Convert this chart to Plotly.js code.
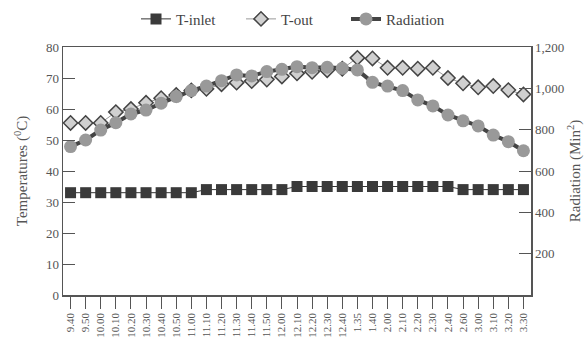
<!DOCTYPE html>
<html>
<head>
<meta charset="utf-8">
<script src="https://cdn.plot.ly/plotly-3.0.1.min.js"></script>
<style>html,body{margin:0;padding:0;background:#fff;}#chart{width:587px;height:348px;}</style>
</head>
<body>
<div id="chart"></div>
<script>
const times = ["9.40","9.50","10.00","10.10","10.20","10.30","10.40","10.50","11.00","11.10","11.20","11.30","11.40","11.50","12.00","12.10","12.20","12.30","12.40","1.35","1.40","2.00","2.10","2.20","2.30","2.40","2.60","3.00","3.10","3.20","3.30"];
const tInlet = [33,33,33,33,33,33,33,33,33,34,34,34,34,34,34,35,35,35,35,35,35,35,35,35,35,35,34,34,34,34,34];
const tOut = [55.5,55.5,55.5,59,60,62,63.5,64.5,66,66.5,68,68.5,69,69.5,70.5,71.5,72,72.5,73,76.5,76.3,73.3,73.3,73,73.3,70,68.3,67,67.4,66.1,64.7];
const radiation = [718,750,798,834,876,895,928,960,989,1011,1037,1065,1060,1081,1092,1105,1100,1102,1097,1089,1029,1011,989,944,915,871,843,818,774,742,698];
const tempTicks = [0,10,20,30,40,50,60,70,80];
const radTicks = [200,400,600,800,1000,1200];
const boundaryTicks = times.slice(1).map((_, i) => i + 0.5);

const axisColor = '#555';
const fontFam = '"Liberation Serif", "DejaVu Serif", serif';

const traces = [
  {x: times, y: tInlet, name: 'T-inlet', type: 'scatter', mode: 'lines+markers',
   line: {color: '#333', width: 1}, marker: {symbol: 'square', size: 11, color: '#3a3a3a'}},
  {x: times, y: tOut, name: 'T-out', type: 'scatter', mode: 'lines+markers',
   line: {color: '#999', width: 1}, marker: {symbol: 'diamond', size: 11, color: '#d0d0d0', line: {color: '#444', width: 1.5}}},
  {x: times, y: radiation, name: 'Radiation', type: 'scatter', mode: 'lines+markers', yaxis: 'y2',
   line: {color: '#444', width: 4}, marker: {symbol: 'circle', size: 13, color: '#999'}}
];

const layout = {
  width: 587, height: 348,
  margin: {l: 63, r: 56, t: 47, b: 53},
  paper_bgcolor: '#fff', plot_bgcolor: '#fff',
  font: {family: fontFam, color: axisColor, size: 12},
  showlegend: true,
  legend: {orientation: 'h', x: 0.5, xref: 'container', xanchor: 'center', y: 0.945, yanchor: 'middle', yref: 'container',
           font: {size: 15, color: '#444', family: fontFam}, entrywidth: 60, entrywidthmode: 'pixels',
           tracegroupgap: 0, bgcolor: 'rgba(0,0,0,0)'},
  xaxis: {type: 'category', categoryarray: times, range: [-0.5, times.length - 0.5],
          showline: true, linecolor: axisColor, linewidth: 1.5, mirror: true,
          ticks: 'outside', ticklen: 12, tickcolor: axisColor, tickwidth: 1,
          tickangle: -90, tickfont: {size: 11, color: axisColor}, showgrid: false, zeroline: false},
  xaxis2: {overlaying: 'x', anchor: 'y', side: 'bottom', range: [-0.5, times.length - 0.5],
           tickmode: 'array', tickvals: boundaryTicks, showticklabels: false,
           ticks: 'inside', ticklen: 11, tickcolor: axisColor, tickwidth: 1,
           showline: false, showgrid: false, zeroline: false},
  yaxis: {range: [0, 80], tickmode: 'array', tickvals: tempTicks,
          showline: true, linecolor: axisColor, linewidth: 1.5, mirror: false,
          ticks: 'inside', ticklen: 12, tickcolor: axisColor, tickwidth: 1,
          showgrid: false, zeroline: false, tickfont: {size: 13, color: axisColor},
          title: {text: 'Temperatures (<sup>0</sup>C)', font: {size: 15, color: axisColor}, standoff: 14}},
  yaxis2: {range: [0, 1200], overlaying: 'y', side: 'right', tickmode: 'array', tickvals: radTicks,
           tickformat: ',', showline: true, linecolor: axisColor, linewidth: 1.5,
           ticks: 'inside', ticklen: 12, tickcolor: axisColor, tickwidth: 1,
           showgrid: false, zeroline: false, tickfont: {size: 13, color: axisColor},
           title: {text: 'Radiation (Min<sup>2</sup>)', font: {size: 15, color: axisColor}, standoff: 6}}
};

Plotly.newPlot('chart', traces, layout, {staticPlot: true, displayModeBar: false});
</script>
</body>
</html>
